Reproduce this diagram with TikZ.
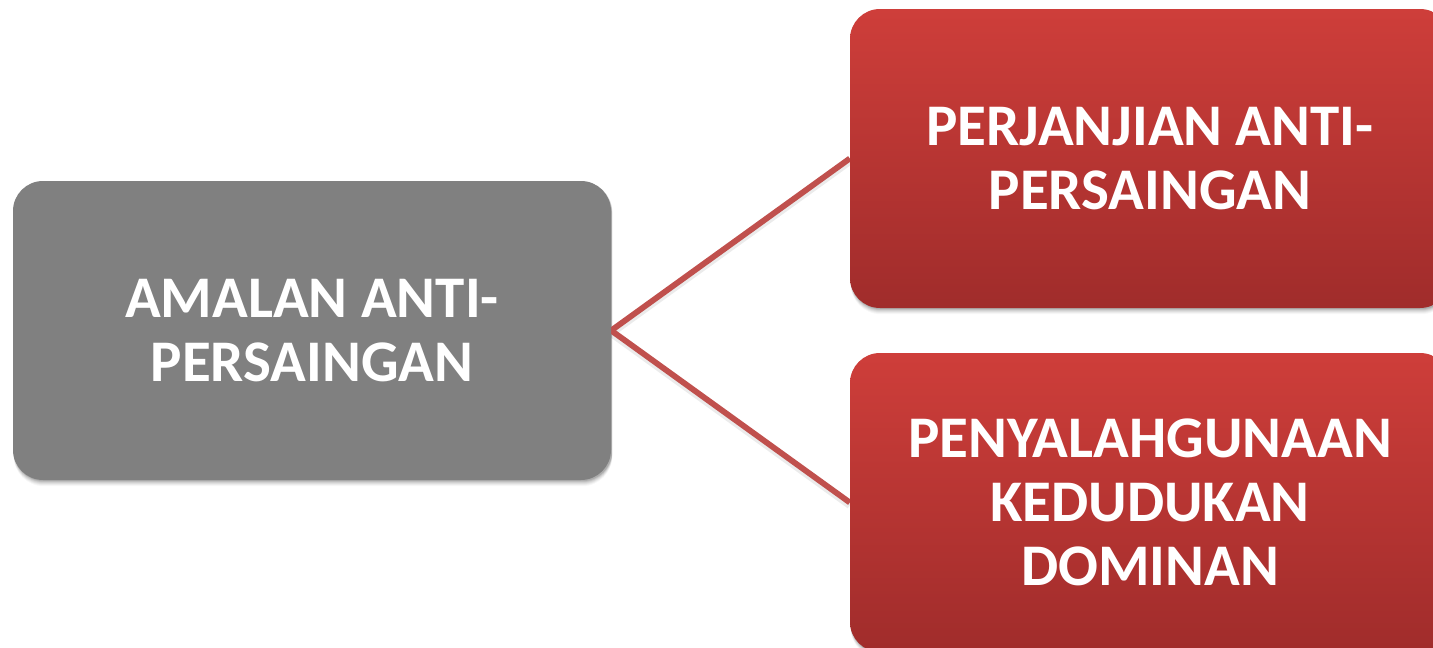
\documentclass[tikz,border=0pt]{standalone}
\usepackage{fontspec}
\setmainfont{Carlito}
\usetikzlibrary{backgrounds}
\definecolor{boxgray}{RGB}{128,128,128}
\definecolor{redtop}{RGB}{206,62,58}
\definecolor{redbot}{RGB}{160,44,43}
\definecolor{linkred}{RGB}{192,80,77}
\tikzset{
  box/.style={rounded corners=30pt, minimum width=598pt, minimum height=299pt,
    inner sep=0pt, align=center, text=white,
    font=\fontsize{59}{64}\selectfont\bfseries},
  graybox/.style={box, fill=boxgray},
  redbox/.style={box, minimum width=600pt, top color=redtop, bottom color=redbot},
  link/.style={draw=linkred, line width=5.8pt},
  linkshadow/.style={draw=black, opacity=0.08, line width=7pt},
}
\begin{document}
\begin{tikzpicture}[x=1pt,y=-1pt]
\useasboundingbox (0,0) rectangle (1433,648);
\clip (0,0) rectangle (1433,648);
\node[graybox] (src) at (312,330.5) {AMALAN ANTI-\\PERSAINGAN};
\node[redbox] (r1) at (1150,158.5) {PERJANJIAN ANTI-\\PERSAINGAN};
\node[redbox] (r2) at (1150,502.5) {PENYALAHGUNAAN\\KEDUDUKAN\\DOMINAN};
\begin{pgfonlayer}{background}
  \fill[white] (0,0) rectangle (1433,648);
  \foreach \n in {src,r1,r2}{
    \foreach \d/\o in {1/0.10,2/0.08,3/0.06,4/0.05,5/0.04,6/0.03}{
      \fill[black,opacity=\o,rounded corners=30pt]
        ([xshift=1pt,yshift=-\d pt]\n.south west) rectangle ([xshift=1pt,yshift=-\d pt]\n.north east);
    }
  }
  \draw[linkshadow] ([yshift=-3pt]src.east) -- ([yshift=-3pt]r1.west);
  \draw[linkshadow] ([yshift=-3pt]src.east) -- ([yshift=-3pt]r2.west);
  \draw[link] (src.east) -- (r1.west);
  \draw[link] (src.east) -- (r2.west);
\end{pgfonlayer}
\end{tikzpicture}
\end{document}
